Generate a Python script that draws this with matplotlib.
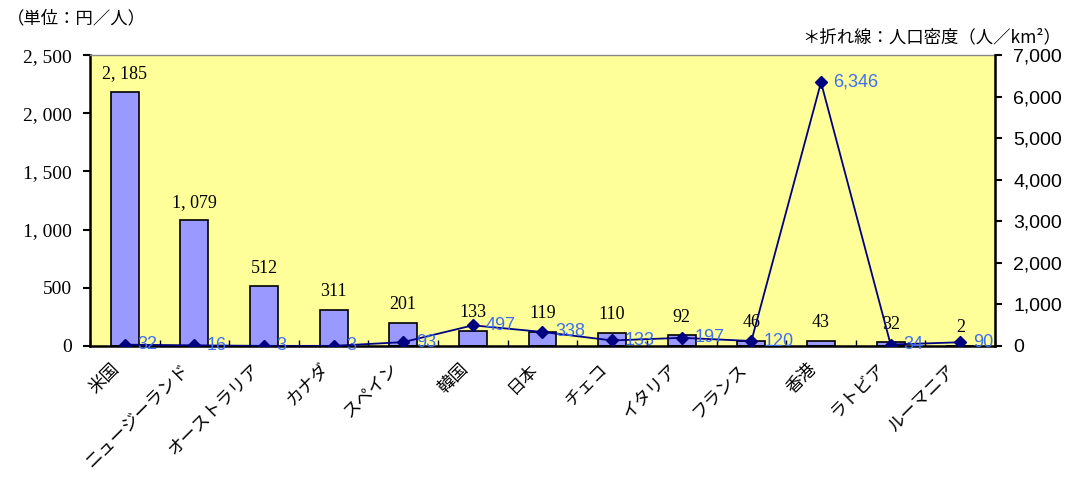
import numpy as np
import matplotlib.pyplot as plt
from matplotlib.transforms import ScaledTranslation

plt.rcParams['font.family'] = ['Noto Sans CJK JP', 'DejaVu Sans']

# 国別の一人当たり金額（円／人）と人口密度（人／km2）
countries = ['米国', 'ニュージーランド', 'オーストラリア', 'カナダ', 'スペイン', '韓国',
             '日本', 'チェコ', 'イタリア', 'フランス', '香港', 'ラトビア', 'ルーマニア']
yen_per_person = [2185, 1079, 512, 311, 201, 133, 119, 110, 92, 46, 43, 32, 2]
density = [32, 16, 3, 3, 93, 497, 338, 133, 197, 120, 6346, 34, 90]

x = np.arange(len(countries))

fig = plt.figure(figsize=(10.7, 4.88), dpi=100)
ax = fig.add_axes([0.084, 0.291, 0.846, 0.596])
ax.set_facecolor('#FFFF99')

ax.bar(x, yen_per_person, width=0.4, color='#9999FF', edgecolor='black', linewidth=1.2, zorder=2)
for xi, v in zip(x, yen_per_person):
    ax.annotate(f'{v:,}'.replace(',', ', '), (xi, v), xytext=(0, 7), textcoords='offset points',
                ha='center', va='bottom', fontsize=13, family='Liberation Serif')

ax.set_xlim(-0.5, len(countries) - 0.5)
ax.set_ylim(0, 2500)
ax.set_yticks(np.arange(0, 2501, 500))
ax.set_yticklabels([f'{v:,}'.replace(',', ', ') for v in range(0, 2501, 500)],
                   family='Liberation Serif', fontsize=14)
ax.set_xticks(np.arange(-0.5, len(countries), 1.0))
ax.set_xticklabels([])
ax.tick_params(axis='x', direction='in', length=4, width=1)
ax.tick_params(axis='y', direction='out', length=5, width=1.5, pad=8)
ax.set_xticks(x, minor=True)
ax.set_xticklabels(countries, minor=True, rotation=45, ha='right', va='top',
                   rotation_mode='anchor', fontsize=12.5)
ax.tick_params(axis='x', which='minor', length=0, pad=10)
shift = ScaledTranslation(-14 / 100, 0, fig.dpi_scale_trans)
for lbl in ax.get_xticklabels(minor=True):
    lbl.set_transform(lbl.get_transform() + shift)

for side in ['left', 'bottom']:
    ax.spines[side].set_linewidth(1.8)
ax.spines['top'].set_color('#888888')
ax.spines['top'].set_linewidth(1.0)

ax2 = ax.twinx()
ax2.plot(x, density, color='#000080', linewidth=1.3, marker='D', markersize=6, zorder=3)
for xi, v in zip(x, density):
    ax2.annotate(f'{v:,}', (xi, v), xytext=(9, 0), textcoords='offset points',
                 ha='left', va='center', fontsize=13, color='#3F6FF0', family='Liberation Sans')
ax2.set_ylim(0, 7000)
ax2.set_yticks(np.arange(0, 7001, 1000))
ax2.set_yticklabels([f'{v:,}' for v in range(0, 7001, 1000)], family='Liberation Sans', fontsize=14)
ax2.tick_params(axis='y', direction='out', length=5, width=1.5, pad=8)
ax2.spines['right'].set_linewidth(1.8)
ax2.spines['left'].set_visible(False)
ax2.spines['bottom'].set_visible(False)
ax2.spines['top'].set_visible(False)

fig.text(0.006, 0.962, '（単位：円／人）', fontsize=12.5, va='center', ha='left')
fig.text(0.992, 0.924, '＊折れ線：人口密度（人／km²）', fontsize=12.5, va='center', ha='right')

fig.savefig('out.png', dpi=100)
